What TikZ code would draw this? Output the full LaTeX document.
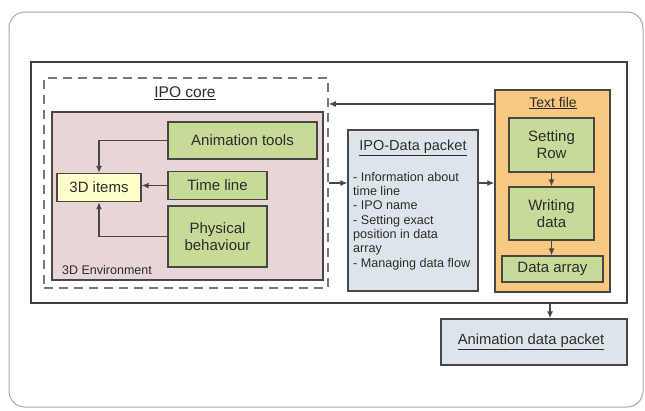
\documentclass[tikz,border=0pt]{standalone}
\usepackage{fontspec}
\setmainfont{Liberation Sans}
\usetikzlibrary{arrows.meta}
\definecolor{boxgreen}{HTML}{C6DB98}
\definecolor{envpink}{HTML}{E8D6D6}
\definecolor{tforange}{HTML}{F8C883}
\definecolor{pktblue}{HTML}{DCE6EA}
\definecolor{itemyellow}{HTML}{FFFFCC}
\definecolor{edge}{HTML}{4A4646}
\definecolor{dashgray}{HTML}{7A7676}
\definecolor{framegray}{HTML}{A8A8A8}
\definecolor{txt}{HTML}{2E2B2B}
\tikzset{
  box/.style={draw=edge, line width=1.4pt, rectangle, inner sep=0pt, align=center, text=txt},
  greenbox/.style={box, fill=boxgreen, font=\fontsize{15}{17}\selectfont},
  conn/.style={draw=edge, line width=1.2pt, -{Latex[length=7pt,width=6pt]}},
  lbl/.style={inner sep=0pt, text=txt}
}
\begin{document}
\begin{tikzpicture}[x=1pt,y=-1pt]
\useasboundingbox (0,0) rectangle (645,410);
\fill[white] (0,0) rectangle (645,410);
% outer frame
\draw[framegray, line width=1pt, rounded corners=16pt] (9,12) rectangle (643,407);
% main rectangle
\node[draw=edge!90!black, line width=1.8pt, fill=white, minimum width=596, minimum height=241, inner sep=0pt] (main) at (329,182.5) {};
% IPO core dashed
\node[draw=dashgray, line width=1.6pt, dash pattern=on 9pt off 6pt, minimum width=284, minimum height=210, inner sep=0pt] (core) at (186,183) {};
\node[lbl, font=\fontsize{15.5}{17}\selectfont] (corelbl) at (185,93) {\underline{IPO core}};
% 3D environment
\node[box, fill=envpink, minimum width=271, minimum height=168] (env) at (187.5,196) {};
\node[lbl, anchor=west, font=\fontsize{12.5}{14}\selectfont] (envlbl) at (62,270) {3D Environment};
\node[greenbox, minimum width=149, minimum height=37] (anim) at (242.5,140.5) {Animation tools};
\node[greenbox, minimum width=99, minimum height=28] (time) at (217.5,185.5) {Time line};
\node[greenbox, minimum width=99, minimum height=61] (phys) at (217.5,236.5) {Physical\\behaviour};
\node[box, fill=itemyellow, minimum width=84, minimum height=28, font=\fontsize{15}{17}\selectfont] (items) at (99,187.5) {3D items};
\draw[conn] (anim.west) -| (items.north);
\draw[conn] (time.west) -- (time.west -| items.east);
\draw[conn] (phys.west) -| (items.south);
% IPO-Data packet
\node[box, fill=pktblue, minimum width=130, minimum height=161] (ipo) at (413,210.5) {};
\node[lbl, font=\fontsize{14.5}{16}\selectfont] (ipotitle) at (413,148) {\underline{IPO-Data packet}};
\node[lbl, anchor=north west, align=left, font=\fontsize{12.6}{14.3}\selectfont] (ipobody) at (353,172) {- Information about\\time line\\- IPO name\\- Setting exact\\position in data\\array\\- Managing data flow};
% Text file
\node[box, fill=tforange, minimum width=115, minimum height=202] (tf) at (552.5,191) {};
\node[lbl, font=\fontsize{14}{16}\selectfont] (tflbl) at (553,103) {\underline{Text file}};
\node[greenbox, minimum width=85, minimum height=54] (setrow) at (551.5,145) {Setting\\Row};
\node[greenbox, minimum width=85, minimum height=53] (write) at (551.5,213.5) {Writing\\data};
\node[greenbox, minimum width=101, minimum height=26] (darray) at (552.5,269) {Data array};
\draw[conn] (setrow.south) -- (write.north);
\draw[conn] (write.south) -- (write.south |- darray.north);
% connectors between blocks
\coordinate (ya) at (0,183);
\coordinate (yb) at (0,104);
\coordinate (xc) at (550,0);
\draw[conn] (core.east |- ya) -- (ipo.west |- ya);
\draw[conn] (ipo.east |- ya) -- (tf.west |- ya);
\draw[conn] (tf.west |- yb) -- (core.east |- yb);
% Animation data packet
\node[box, fill=pktblue, minimum width=186, minimum height=46] (pkt) at (534,342) {};
\node[lbl, font=\fontsize{14.8}{17}\selectfont] (pktlbl) at (531,342) {\underline{Animation data packet}};
\draw[conn] (main.south -| xc) -- (pkt.north -| xc);
\end{tikzpicture}
\end{document}
